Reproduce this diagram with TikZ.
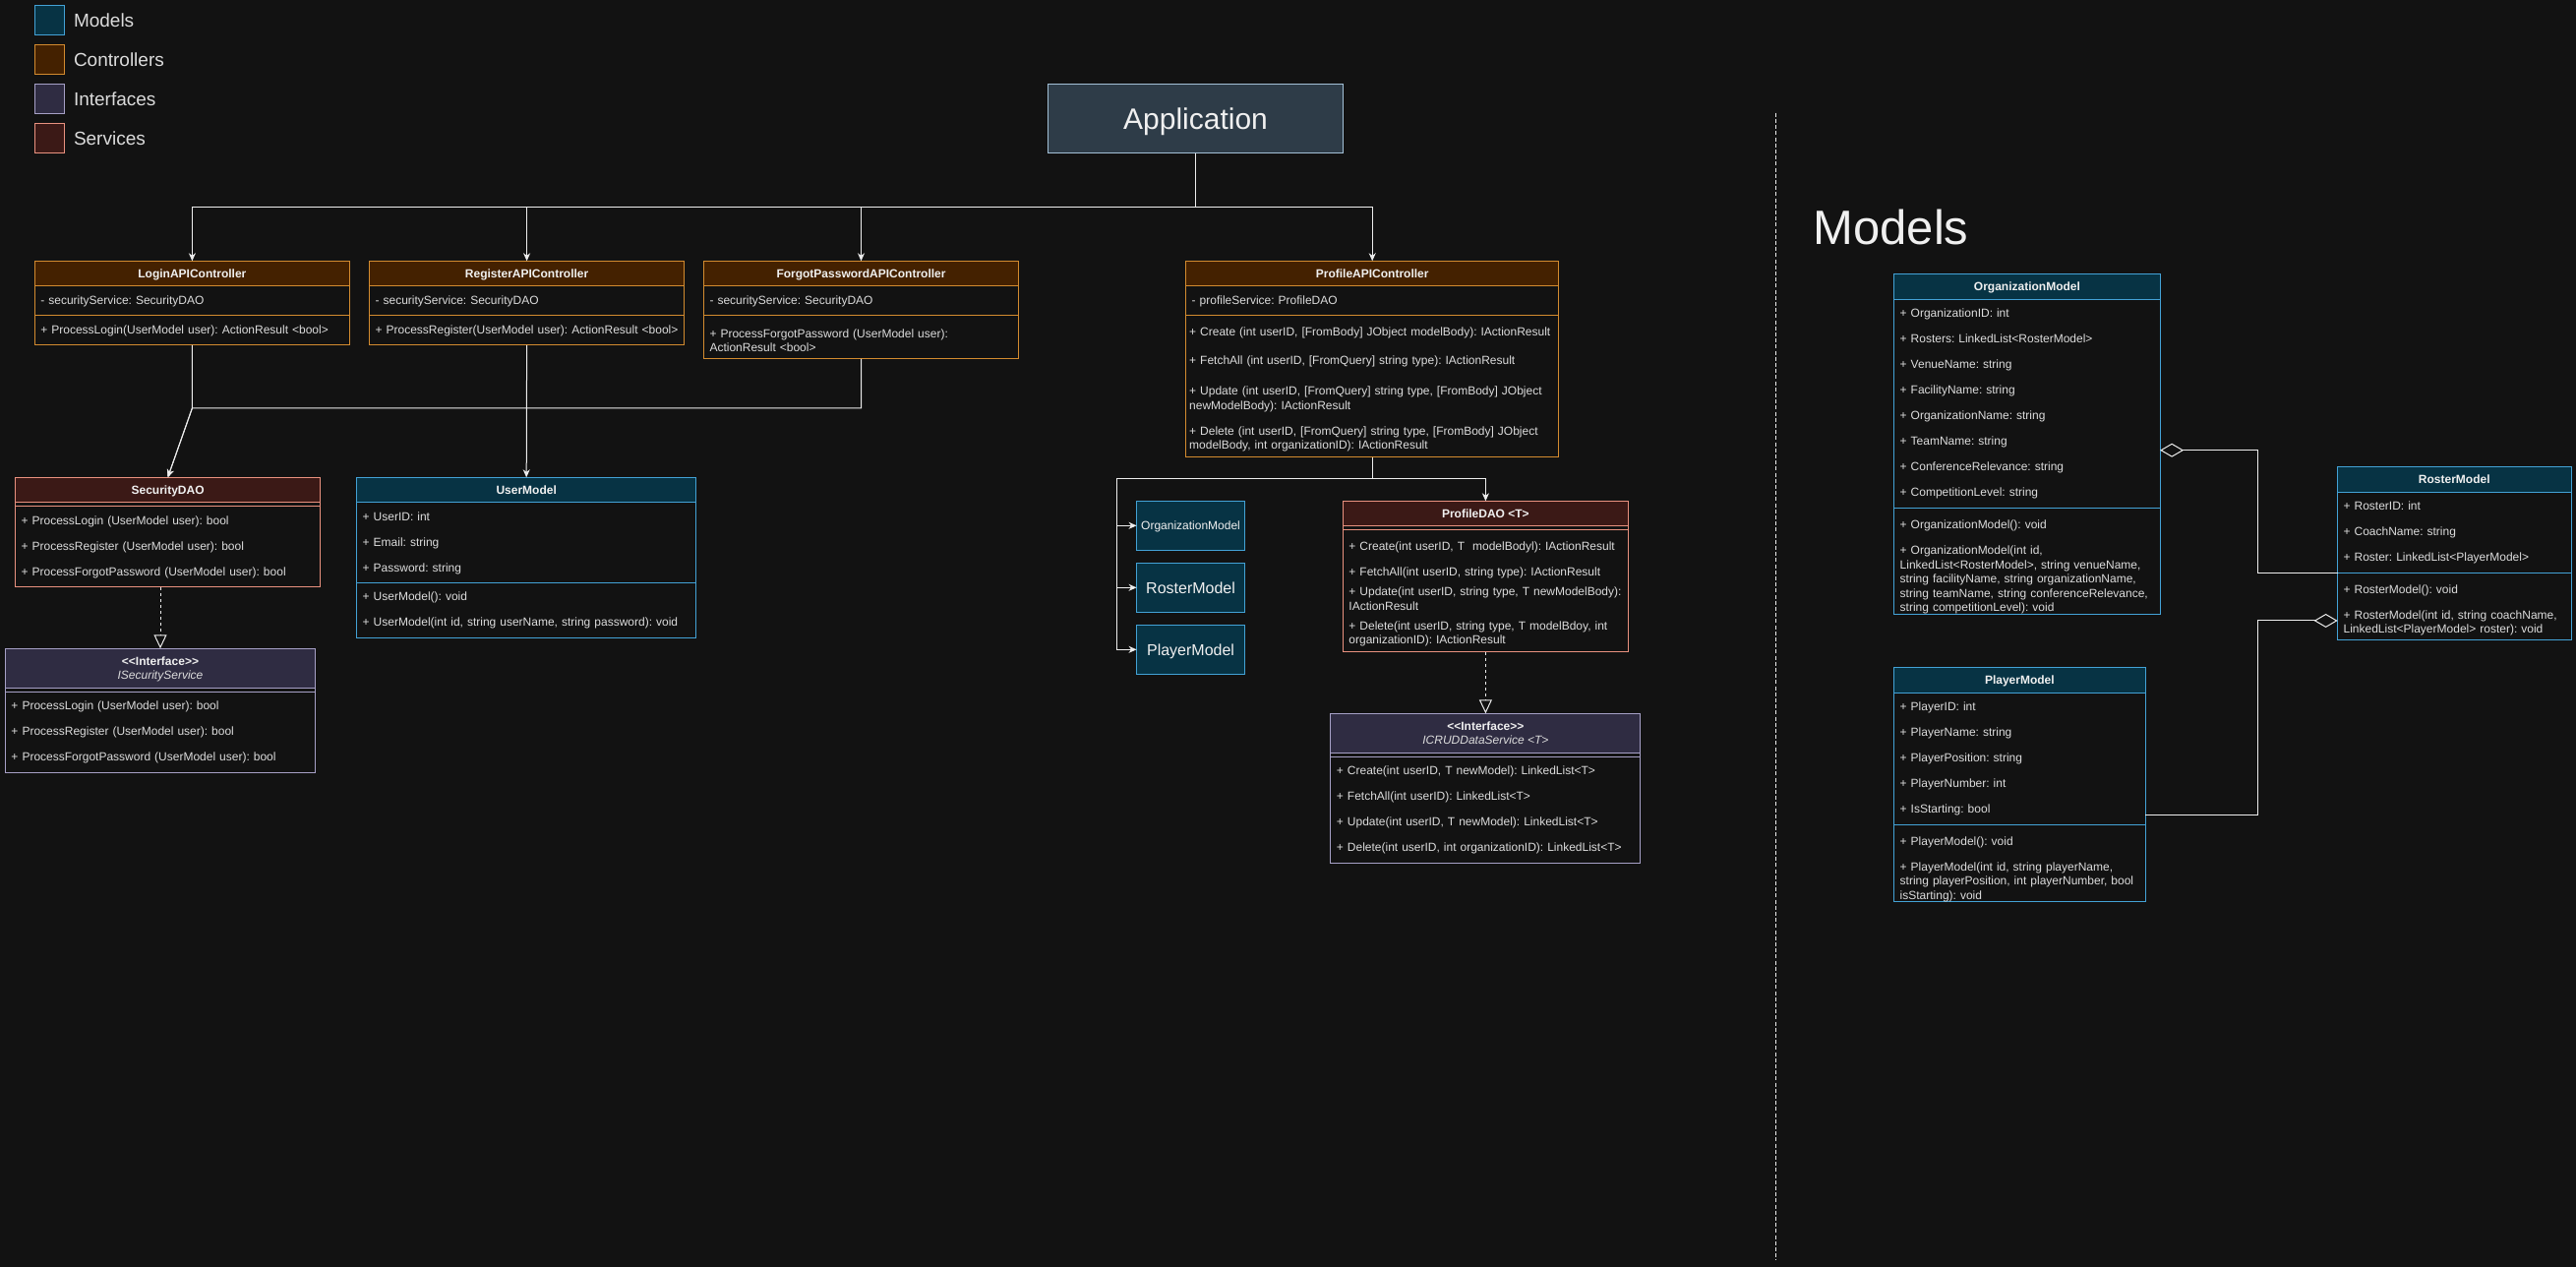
\documentclass[tikz,border=0pt]{standalone}
\usepackage{fontspec}
\setmainfont{Liberation Sans}
\usetikzlibrary{arrows.meta, positioning}

\definecolor{bg}{HTML}{121212}
\definecolor{titletext}{HTML}{F0F0F0}
\definecolor{membertext}{HTML}{DCDCDC}
\definecolor{connline}{HTML}{EDEDED}
\definecolor{modfill}{HTML}{073344}
\definecolor{modline}{HTML}{43A2D6}
\definecolor{ctrlfill}{HTML}{442100}
\definecolor{ctrlline}{HTML}{D38B2F}
\definecolor{ifill}{HTML}{2F2C42}
\definecolor{iline}{HTML}{A6A0C6}
\definecolor{sfill}{HTML}{3B1916}
\definecolor{sline}{HTML}{E9917F}
\definecolor{appfill}{HTML}{2E3C48}
\definecolor{appline}{HTML}{A3C0D6}

\newcommand\membfont{\fontsize{12}{26}\selectfont\frenchspacing\hyphenpenalty=10000\relax}
\newcommand\wrapfont{\fontsize{12}{14.5}\selectfont\frenchspacing\hyphenpenalty=10000\relax}
\newcommand\padtop[1]{\rule{0pt}{#1}}

\begin{document}
\begin{tikzpicture} [
    x=1pt, y=-1pt,
    line width=1pt,
    box/.style={draw, outer sep=0pt, inner sep=0pt},
    head/.style={box, anchor=north west, minimum height=25.6, align=center, text depth=0pt,
        text=titletext, font=\fontsize{12}{14.3}\selectfont\bfseries},
    body/.style={box, fill=bg, inner xsep=6, inner ysep=0, align=left,
        text=membertext, font=\membfont},
    wrapped/.style={font=\wrapfont},
    modhead/.style={head, fill=modfill, draw=modline},
    modbody/.style={body, draw=modline},
    ctrlhead/.style={head, fill=ctrlfill, draw=ctrlline},
    ctrlbody/.style={body, draw=ctrlline},
    ifhead/.style={head, fill=ifill, draw=iline, minimum height=40},
    ifbody/.style={body, draw=iline},
    svchead/.style={head, fill=sfill, draw=sline},
    svcbody/.style={body, draw=sline},
    minimod/.style={box, fill=modfill, draw=modline, minimum width=110,
        minimum height=50, text depth=0pt, text=titletext},
    legbox/.style={box, minimum size=30},
    legtext/.style={inner sep=0pt, text=membertext, font=\fontsize{19}{22}\selectfont},
    arr/.style={draw=connline, -{Stealth[length=8pt, width=7pt, inset=2.5pt]}},
    realize/.style={draw=connline, dash pattern=on 3pt off 3pt,
        -{Triangle[open, length=14pt, width=13pt]}},
    aggr/.style={draw=connline, -{Diamond[open, length=24pt, width=14pt]}}]

\fill[bg] (0,0) rectangle (2619,1288);

% Legend
\node (legmodels) [legbox, fill=modfill, draw=modline] at (50.5,20.3) {};
\node (legctrl) [legbox, fill=ctrlfill, draw=ctrlline, below=10pt of legmodels] {};
\node (legiface) [legbox, fill=ifill, draw=iline, below=10pt of legctrl] {};
\node (legsvc) [legbox, fill=sfill, draw=sline, below=10pt of legiface] {};
\node (legmodelstext) [legtext, right=9pt of legmodels] {Models};
\node (legctrltext) [legtext, right=9pt of legctrl] {Controllers};
\node (legifacetext) [legtext, right=9pt of legiface] {Interfaces};
\node (legsvctext) [legtext, right=9pt of legsvc] {Services};

% Application
\node (app) [box, fill=appfill, draw=appline, minimum width=300, minimum height=70, text depth=0pt,
    text=titletext, font=\fontsize{30}{36}\selectfont] at (1215.5,120.5) {Application};

% Controllers
\node (login) [ctrlhead, minimum width=320] at (35.4,265.3) {LoginAPIController};
\node (loginattr) [ctrlbody, below=0pt of login, minimum height=30, text width=308]
    {- securityService: SecurityDAO};
\node (loginops) [ctrlbody, below=0pt of loginattr, minimum height=30, text width=308]
    {+ ProcessLogin(UserModel user): ActionResult <bool>};

\node (register) [ctrlhead, minimum width=320] at (375.6,265.3) {RegisterAPIController};
\node (registerattr) [ctrlbody, below=0pt of register, minimum height=30, text width=308]
    {- securityService: SecurityDAO};
\node (registerops) [ctrlbody, below=0pt of registerattr, minimum height=30, text width=308]
    {+ ProcessRegister(UserModel user): ActionResult <bool>};

\node (forgot) [ctrlhead, minimum width=320] at (715.5,265.3) {ForgotPasswordAPIController};
\node (forgotattr) [ctrlbody, below=0pt of forgot, minimum height=30, text width=308]
    {- securityService: SecurityDAO};
\node (forgotops) [ctrlbody, wrapped, below=0pt of forgotattr, minimum height=44, text width=308]
    {\padtop{15pt}+ ProcessForgotPassword (UserModel user):\\ ActionResult <bool>};

\node (profile) [ctrlhead, minimum width=379] at (1205.7,265.3) {ProfileAPIController};
\node (profileattr) [ctrlbody, below=0pt of profile, minimum height=30, text width=367]
    {- profileService: ProfileDAO};
\node (profileops) [ctrlbody, wrapped, below=0pt of profileattr, minimum height=144,
    inner xsep=3.5, text width=372]
    {\padtop{15pt}+ Create (int userID, [FromBody] JObject modelBody): IActionResult\\[14.5pt]
     + FetchAll (int userID, [FromQuery] string type): IActionResult\\[16.2pt]
     + Update (int userID, [FromQuery] string type, [FromBody] JObject\\
     newModelBody): IActionResult\\[11.5pt]
     + Delete (int userID, [FromQuery] string type, [FromBody] JObject\\
     modelBody, int organizationID): IActionResult};

% Services and interfaces
\node (secdao) [svchead, minimum width=310] at (15.6,485.3) {SecurityDAO};
\node (secdaoattr) [svcbody, below=0pt of secdao, minimum height=4, text width=298] {};
\node (secdaoops) [svcbody, below=0pt of secdaoattr, minimum height=82, text width=298]
    {+ ProcessLogin (UserModel user): bool\\
     + ProcessRegister (UserModel user): bool\\
     + ProcessForgotPassword (UserModel user): bool};

\node (iface) [ifhead, minimum width=315] at (5.5,659.3)
    {<{}<Interface>{}>\\ {\mdseries\itshape\color{membertext}ISecurityService}};
\node (ifaceattr) [ifbody, below=0pt of iface, minimum height=4, text width=303] {};
\node (ifaceops) [ifbody, below=0pt of ifaceattr, minimum height=82, text width=303]
    {+ ProcessLogin (UserModel user): bool\\
     + ProcessRegister (UserModel user): bool\\
     + ProcessForgotPassword (UserModel user): bool};

\node (user) [modhead, minimum width=345] at (362.7,485.3) {UserModel};
\node (userattr) [modbody, below=0pt of user, minimum height=82, text width=333]
    {+ UserID: int\\ + Email: string\\ + Password: string};
\node (userops) [modbody, below=0pt of userattr, minimum height=55.7, text width=333]
    {+ UserModel(): void\\ + UserModel(int id, string userName, string password): void};

% Profile side
\node (orgmini) [minimod, font=\fontsize{12}{14}\selectfont] at (1210.55,534.3) {OrganizationModel};
\node (rostermini) [minimod, font=\fontsize{16}{19}\selectfont, below=13pt of orgmini] {RosterModel};
\node (playermini) [minimod, font=\fontsize{16}{19}\selectfont, below=13pt of rostermini] {PlayerModel};

\node (pdao) [svchead, minimum width=290] at (1365.4,509.3) {ProfileDAO <T>};
\node (pdaoattr) [svcbody, below=0pt of pdao, minimum height=4, text width=278] {};
\node (pdaoops) [svcbody, wrapped, below=0pt of pdaoattr, minimum height=124, text width=278]
    {\padtop{15pt}+ Create(int userID, T~ modelBodyl): IActionResult\\[11.5pt]
     + FetchAll(int userID, string type): IActionResult\\[5.5pt]
     + Update(int userID, string type, T newModelBody):\\ IActionResult\\[5.5pt]
     + Delete(int userID, string type, T modelBdoy, int\\ organizationID): IActionResult};

\node (icrud) [ifhead, minimum width=315] at (1352.9,725.3)
    {<{}<Interface>{}>\\ {\mdseries\itshape\color{membertext}ICRUDDataService <T>}};
\node (icrudattr) [ifbody, below=0pt of icrud, minimum height=4, text width=303] {};
\node (icrudops) [ifbody, below=0pt of icrudattr, minimum height=108, text width=303]
    {+ Create(int userID, T newModel): LinkedList<T>\\
     + FetchAll(int userID): LinkedList<T>\\
     + Update(int userID, T newModel): LinkedList<T>\\
     + Delete(int userID, int organizationID): LinkedList<T>};

% Models
\draw[connline, dash pattern=on 4pt off 2.2pt] (1805.3,114.7) -- (1805.3,1280.7);
\node (modelstitle) [anchor=base west, inner sep=0pt, text=titletext,
    font=\fontsize{49}{58}\selectfont] at (1843,248.3) {Models};

\node (org) [modhead, minimum width=270.4] at (1925.7,278.7) {OrganizationModel};
\node (orgattr) [modbody, below=0pt of org, minimum height=212, text width=258.4]
    {+ OrganizationID: int\\ + Rosters: LinkedList<RosterModel>\\ + VenueName: string\\
     + FacilityName: string\\ + OrganizationName: string\\ + TeamName: string\\
     + ConferenceRelevance: string\\ + CompetitionLevel: string};
\node (orgops) [modbody, wrapped, below=0pt of orgattr, minimum height=108, text width=258.4]
    {\padtop{21pt}+ OrganizationModel(): void\\[11.5pt]
     + OrganizationModel(int id,\\ LinkedList<RosterModel>, string venueName,\\
     string facilityName, string organizationName,\\
     string teamName, string conferenceRelevance,\\ string competitionLevel): void};

\node (roster) [modhead, minimum width=237.4] at (2376.6,474.7) {RosterModel};
\node (rosterattr) [modbody, below=0pt of roster, minimum height=82, text width=225.4]
    {+ RosterID: int\\ + CoachName: string\\ + Roster: LinkedList<PlayerModel>};
\node (rosterops) [modbody, wrapped, below=0pt of rosterattr, minimum height=67.7, text width=225.4]
    {\padtop{17pt}+ RosterModel(): void\\[11.5pt]
     + RosterModel(int id, string coachName,\\ LinkedList<PlayerModel> roster): void};

\node (player) [modhead, minimum width=255.3] at (1925.7,678.7) {PlayerModel};
\node (playerattr) [modbody, below=0pt of player, minimum height=134, text width=243.3]
    {+ PlayerID: int\\ + PlayerName: string\\ + PlayerPosition: string\\
     + PlayerNumber: int\\ + IsStarting: bool};
\node (playerops) [modbody, wrapped, below=0pt of playerattr, minimum height=78, text width=243.3]
    {\padtop{21pt}+ PlayerModel(): void\\[11.5pt]
     + PlayerModel(int id, string playerName,\\
     string playerPosition, int playerNumber, bool\\ isStarting): void};

% Arrows
\draw[arr] (app.south) -- ++(0,54.6) -| (login);
\draw[arr] (app.south) -- ++(0,54.6) -| (register);
\draw[arr] (app.south) -- ++(0,54.6) -| (forgot);
\draw[arr] (app.south) -- ++(0,54.6) -| (profile);

\draw[arr] (loginops.south) -- ++(0,64) coordinate (join) -- (secdao.north);
\draw[arr] (forgotops.south) |- (join) -- (secdao.north);
\draw[arr] (registerops.south) -- (user.north);

\draw[arr] (profileops.south) -- ++(0,22) coordinate (fork) -| (pdao.north);
\draw[arr] (fork) -| ([xshift=-20]playermini.west) -- (playermini.west);
\draw[arr] ([xshift=-20]orgmini.west) -- (orgmini.west);
\draw[arr] ([xshift=-20]rostermini.west) -- (rostermini.west);

\draw[realize] (iface.north |- secdaoops.south) -- (iface.north);
\draw[realize] (pdaoops.south) -- (icrud.north);

\draw[aggr] (rosterops.north west) -- ++(-80.8,0) |- ([yshift=-47.4]orgattr.east);
\draw[aggr] ([yshift=-57]playerattr.east) -- ++(114.8,0) |- ([yshift=-14.8]rosterops.west);
\end{tikzpicture}
\end{document}
